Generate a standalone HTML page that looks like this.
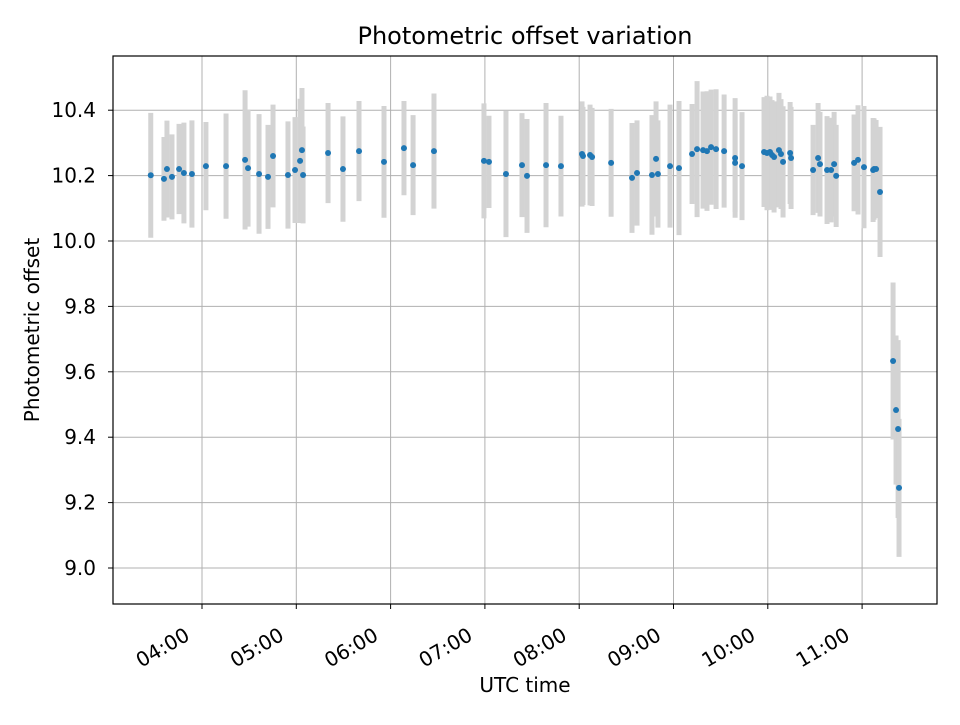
<!DOCTYPE html>
<html><head><meta charset="utf-8"><style>
body{margin:0;background:#fff;}
svg text{font-family:"DejaVu Sans","Liberation Sans",sans-serif;}
</style></head><body>
<svg id="chart" width="960" height="720" xmlns="http://www.w3.org/2000/svg">
<rect width="960" height="720" fill="#fff"/>
<g id="grid"></g><g id="bars"></g><g id="points"></g><g id="axes"></g>
</svg>
<script>
// minutes since 00:00 UTC
const times=[207.4,215.8,217.7,220.9,225.4,228.5,233.6,242.5,255.3,267.4,269.3,276.3,282.0,285.2,294.7,299.2,302.4,303.6,304.3,320.2,329.7,339.9,355.8,368.5,374.3,387.6,
419.4,422.6,433.4,443.6,446.8,458.9,468.4,481.8,482.4,486.9,488.2,500.3,513.6,516.8,526.3,528.9,530.1,537.8,543.5,551.8,555.0,558.8,561.3,563.9,567.1,572.2,579.2,579.2,583.6,
597.6,599.5,601.4,602.7,604.0,607.1,608.4,609.7,614.2,614.8,628.8,632.0,633.2,637.7,640.3,642.2,643.5,654.9,657.4,661.2,667.0,667.6,668.9,671.4,679.7,681.6,682.9,683.5];
const offsets=[10.201,10.190,10.220,10.196,10.220,10.208,10.205,10.229,10.229,10.248,10.223,10.205,10.196,10.260,10.202,10.217,10.245,10.278,10.202,10.269,10.220,10.275,10.242,10.284,10.232,10.275,
10.245,10.242,10.205,10.232,10.199,10.232,10.229,10.266,10.260,10.263,10.257,10.239,10.193,10.208,10.202,10.251,10.205,10.229,10.223,10.266,10.281,10.278,10.275,10.287,10.281,10.275,10.254,10.239,10.229,
10.272,10.269,10.272,10.263,10.257,10.278,10.266,10.242,10.269,10.254,10.217,10.254,10.235,10.217,10.217,10.235,10.199,10.239,10.248,10.226,10.217,10.220,10.220,10.150,9.633,9.483,9.425,9.245];
const errors=[0.191,0.128,0.148,0.130,0.138,0.154,0.164,0.135,0.161,0.213,0.179,0.183,0.159,0.157,0.164,0.162,0.190,0.190,0.148,0.153,0.161,0.153,0.171,0.144,0.153,0.176,
0.176,0.141,0.193,0.159,0.174,0.190,0.154,0.161,0.150,0.154,0.150,0.165,0.168,0.161,0.183,0.176,0.164,0.188,0.205,0.153,0.208,0.179,0.183,0.176,0.183,0.173,0.183,0.150,0.165,
0.168,0.175,0.170,0.168,0.170,0.175,0.168,0.170,0.156,0.156,0.138,0.168,0.160,0.165,0.160,0.160,0.156,0.148,0.167,0.187,0.159,0.155,0.150,0.199,0.240,0.228,0.272,0.211];
const yTicks=[9.0,9.2,9.4,9.6,9.8,10.0,10.2,10.4];
const xTickMin=[240,300,360,420,480,540,600,660];
const xTickLabels=["04:00","05:00","06:00","07:00","08:00","09:00","10:00","11:00"];

const L=113,R=937,T=56,B=604;
const xs=m=>202+(m-240)/60*94.3;
const ys=v=>241-(v-10)*327;
const NS="http://www.w3.org/2000/svg";
function mk(tag,attrs,parent,txt){const e=document.createElementNS(NS,tag);for(const k in attrs)e.setAttribute(k,attrs[k]);if(txt!==undefined)e.textContent=txt;parent.appendChild(e);return e;}
const g=document.getElementById('grid'),ax=document.getElementById('axes');
yTicks.forEach(v=>{const y=ys(v);
 const l=mk('line',{x1:L,x2:R,y1:y,y2:y,stroke:'#b0b0b0','stroke-width':1},g);
 
 
 mk('line',{x1:L-5,x2:L,y1:y,y2:y,stroke:'#000'},ax);
 const t=mk('text',{x:L-17,y:y+7,'text-anchor':'end','font-size':20},ax,v.toFixed(1));
 
 
});
xTickMin.forEach((m,i)=>{const x=xs(m);
 const l=mk('line',{x1:x,x2:x,y1:T,y2:B,stroke:'#b0b0b0','stroke-width':1},g);
 
 
 mk('line',{x1:x,x2:x,y1:B,y2:B+5,stroke:'#000'},ax);
 const ax0=x-11,ay0=B+35;
 const t=mk('text',{x:ax0,y:ay0,'text-anchor':'end','font-size':20,transform:`rotate(-30 ${ax0} ${ay0})`},ax,xTickLabels[i]);
 
 
});
const bg=document.getElementById('bars'),pg=document.getElementById('points');
times.forEach((m,i)=>{const x=xs(m);
 const b=mk('line',{x1:x,x2:x,y1:ys(offsets[i]+errors[i]),y2:ys(offsets[i]-errors[i]),stroke:'#d3d3d3','stroke-width':5},bg);
 
 
 const c=mk('circle',{cx:x,cy:ys(offsets[i]),r:3,fill:'#1f77b4'},pg);
 
 
});
const f=mk('rect',{x:L,y:T,width:R-L,height:B-T,fill:'none',stroke:'#000','stroke-width':1.2},ax);


const tt=mk('text',{x:525,y:44,'text-anchor':'middle','font-size':24},ax,'Photometric offset variation');


const xt=mk('text',{x:525,y:692,'text-anchor':'middle','font-size':20},ax,'UTC time');


const yt=mk('text',{x:39,y:330,'text-anchor':'middle','font-size':20,transform:'rotate(-90 39 330)'},ax,'Photometric offset');


</script>
</body></html>
